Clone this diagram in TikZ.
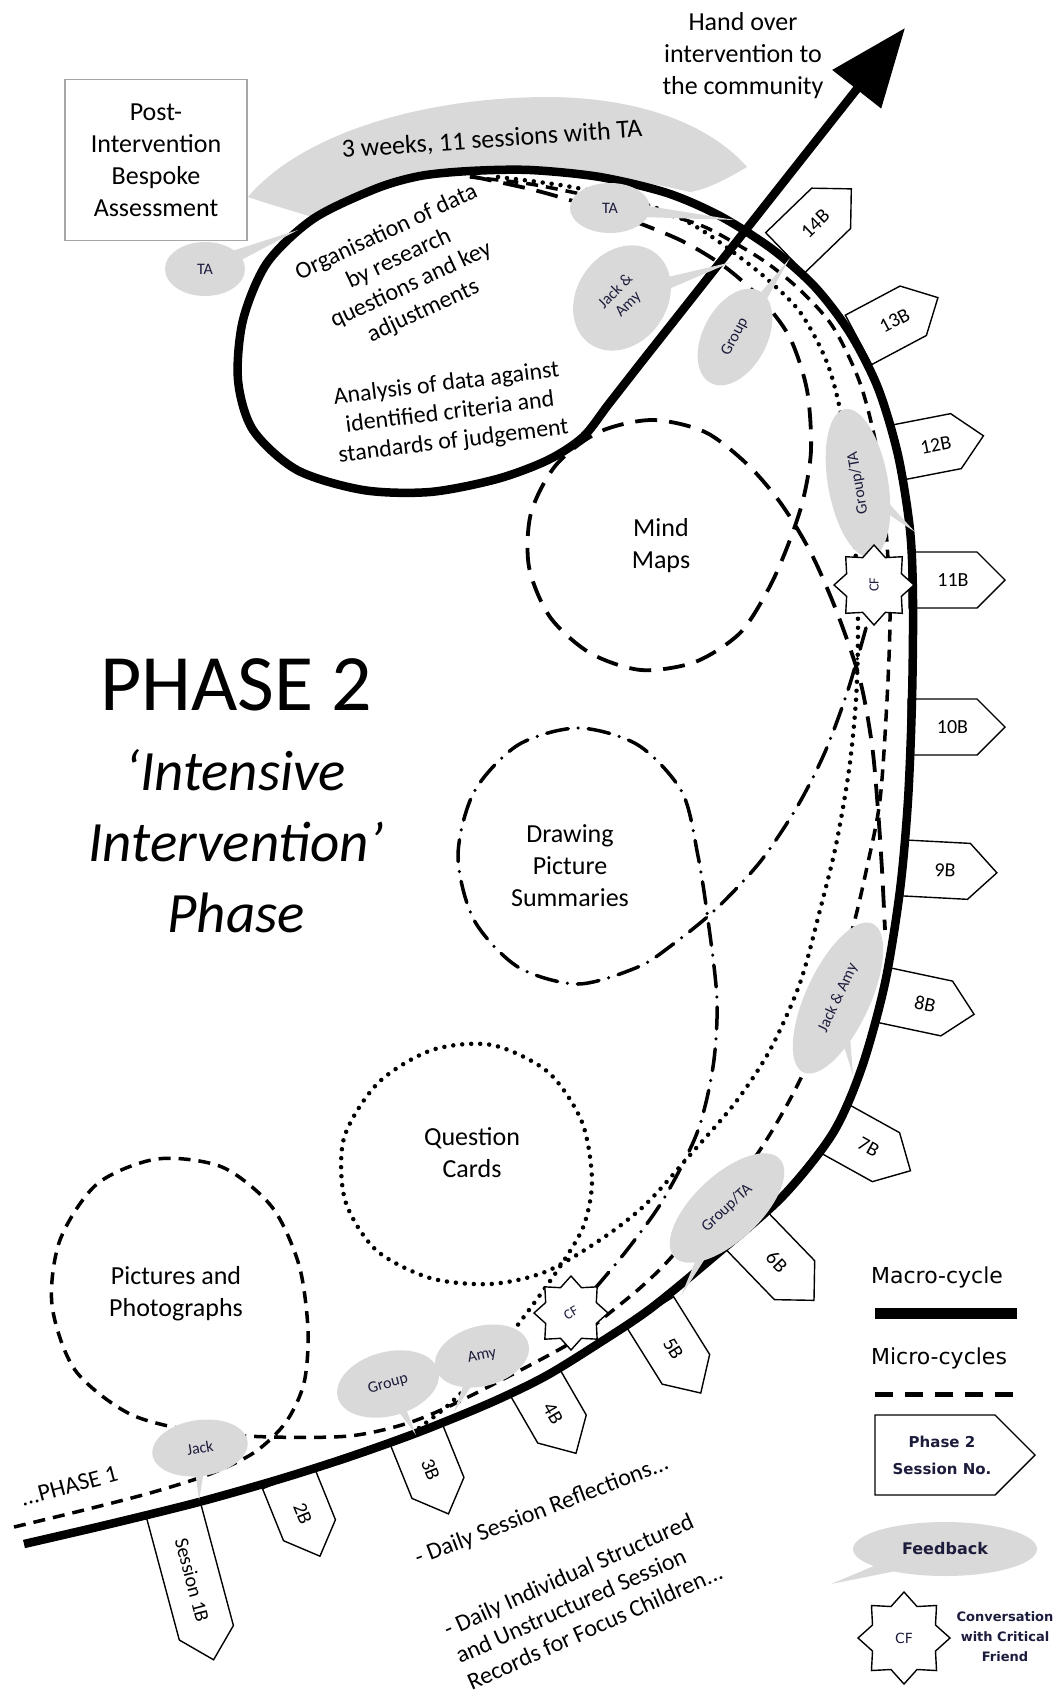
\documentclass[tikz,border=0pt]{standalone}
\usepackage{fontspec}
\setmainfont{Carlito}
\newfontfamily\keyfont{DejaVu Sans}
\usetikzlibrary{arrows.meta,calc,shapes.geometric}

\definecolor{bubblegray}{RGB}{217,217,217}
\definecolor{inkblue}{RGB}{28,28,60}

\tikzset{
  macro/.style={line width=8.5pt, line join=round},
  pictdash/.style={line width=3.5pt, dash pattern=on 12pt off 8pt},
  minddash/.style={line width=3.8pt, dash pattern=on 22pt off 12pt},
  carddots/.style={line width=4.5pt, line cap=round, dash pattern=on 0pt off 9pt},
  drawdashdot/.style={line width=3.5pt, line cap=round, dash pattern=on 22pt off 10pt on 0pt off 10pt},
  tagbox/.style={draw, line width=1.4pt, fill=white, line join=miter},
  tagtext/.style={font=\fontsize{20}{20}\selectfont, inner sep=0pt},
  lbl/.style={font=\fontsize{26}{32}\selectfont, align=center, inner sep=0pt},
  smalllbl/.style={font=\fontsize{24}{29}\selectfont, align=center, inner sep=0pt},
  fbtext/.style={font=\fontsize{16}{18}\selectfont, text=inkblue, align=center, inner sep=0pt},
  cfstar/.style={star, star points=8, star point ratio=1.35, draw, line width=1.4pt, fill=white, inner sep=0pt, font=\fontsize{14}{14}\selectfont, text=inkblue},
  keytext/.style={font=\keyfont\fontsize{22}{22}\selectfont, inner sep=0pt},
}

\newcommand{\feedback}[9]{%
  \fill[bubblegray] ($#2!#7!90:#6$) -- #6 -- ($#2!#7!-90:#6$) -- cycle;
  \fill[bubblegray, rotate around={#5:#2}] #2 ellipse ({#3} and {#4});
  \node[fbtext, rotate=#8] (#1) at #2 {#9};
}

\begin{document}
\begin{tikzpicture}[x=1pt, y=-1pt]
\useasboundingbox (0,0) rectangle (1055,1697);

\fill[bubblegray] (248,197) .. controls (300,135) and (420,97) .. (550,97)
  .. controls (650,98) and (715,130) .. (747,167)
  .. controls (725,180) and (705,190) .. (690,192)
  .. controls (640,180) and (560,168) .. (480,168)
  .. controls (400,170) and (340,195) .. (312,217)
  .. controls (290,210) and (265,203) .. (248,197) -- cycle;

\draw[pictdash] plot[smooth] coordinates {(14,1527) (80,1511) (150,1493) (210,1474) (255,1452) (286,1422) (304,1383) (308,1330) (299,1265) (272,1207) (222,1167) (157,1159) (97,1184) (60,1240) (52,1305) (75,1370) (130,1414) (200,1432) (272,1437) (349,1436) (405,1424) (454,1404) (536,1362) (575,1340) (607,1315) (640,1288) (667,1262) (715,1207) (760,1150) (800,1080) (830,1005) (853,927) (867,867) (880,800) (887,700) (890,613) (886,530) (877,450) (860,383) (833,327) (800,290) (767,263) (733,242) (700,225) (650,210) (590,196) (530,184) (470,177)};

\draw[minddash] plot[smooth] coordinates {(470,176) (530,189) (573,201) (620,216) (680,240) (725,267) (762,300) (790,338) (807,390) (811,450) (803,500) (788,545) (769,588) (740,633) (695,662) (641,670) (590,653) (550,617) (529,567) (531,513) (556,465) (599,432) (652,420) (705,432) (748,465) (782,505) (812,555) (838,615) (860,680) (872,745) (878,810) (882,870) (885,930)};

\draw[carddots] plot[smooth] coordinates {(419,1428) (445,1408) (470,1384) (495,1355) (517,1326) (540,1295) (563,1262) (584,1225) (592,1180) (582,1122) (548,1072) (492,1045) (432,1050) (378,1083) (344,1138) (345,1200) (376,1250) (430,1278) (490,1284) (545,1272) (600,1240) (645,1205) (690,1155) (735,1103) (770,1050) (800,983) (820,910) (836,845) (849,770) (856,700) (858,630) (856,560) (849,480) (840,410) (826,360) (800,312) (767,279) (733,252) (700,229) (667,212) (620,197) (560,185) (490,176)};

\draw[drawdashdot] plot[smooth] coordinates {(866,628) (848,690) (825,752) (797,807) (760,862) (715,910) (672,945) (638,967) (578,984) (518,967) (474,920) (458,856) (474,792) (518,745) (578,728) (638,745) (682,792) (698,856) (708,920) (717,1000) (713,1067) (697,1133) (663,1200) (627,1250) (592,1292)};

\foreach \n/\bx/\by/\ang/\len/\lab in {
  1/174/1512/-75/153/Session 1B,
  2/290/1482/-68/80/2B,
  3/417/1436/-68/84/3B,
  4/536/1384/-60/80/4B,
  5/652/1315/-58/92/5B,
  6/748/1232/-46/95/6B,
  7/837/1130/-29/84/7B,
  8/888/996/-12/88/8B,
  9/905/868/-3/92/9B,
  10/912/727/0/93/10B,
  11/913/580/0/92/11B,
  12/900/452/11/85/12B,
  13/862/338/28/86/13B,
  14/788/250/44/88/14B}{
  \begin{scope}[shift={(\bx,\by)}, rotate=\ang]
    \draw[tagbox] (-4,-28) -- ({\len-28},-28) -- (\len,0) -- ({\len-28},28) -- (-4,28) -- cycle;
    \node[tagtext, rotate=\ang] (tag\n) at ({(\len-28)/2+8},0) {\lab};
  \end{scope}
}

\draw[macro, -{Triangle[length=78pt,width=60pt]}] plot[smooth] coordinates {(24,1544) (110,1524) (199,1502) (280,1479) (349,1457) (419,1432) (490,1403) (544,1377) (593,1347) (650,1309) (717,1254) (783,1196) (833,1133) (862,1067) (885,983) (900,890) (908,800) (912,700) (913,600) (910,530) (898,455) (878,388) (850,333) (815,287) (772,249) (720,216) (667,193) (600,177) (530,170) (470,171) (420,176) (375,189) (313,219) (267,263) (243,320) (238,380) (253,430) (297,470) (363,490) (430,492) (497,479) (548,460) (583,437) (608,405) (640,364)} -- (905,28);

\feedback{taleft}{(205,269)}{40}{27}{0}{(298,230)}{9pt}{0}{TA}
\feedback{tatop}{(610,208)}{40}{25}{0}{(735,220)}{8pt}{0}{TA}
\feedback{jackamytop}{(622,298)}{56}{45}{55}{(732,262)}{10pt}{45}{Jack \&\\Amy}
\feedback{grouptop}{(735,337)}{52}{32}{62}{(790,258)}{9pt}{62}{Group}
\feedback{grouptaright}{(858,483)}{75}{30}{100}{(915,532)}{9pt}{100}{Group/TA}
\feedback{jackamyright}{(838,998)}{82}{32}{65}{(853,1075)}{9pt}{65}{Jack \& Amy}
\feedback{grouptabottom}{(727,1208)}{72}{33}{43}{(681,1296)}{9pt}{43}{Group/TA}
\feedback{groupbottom}{(388,1384)}{52}{32}{15}{(416,1435)}{8pt}{15}{Group}
\feedback{amy}{(482,1356)}{48}{30}{15}{(454,1412)}{8pt}{12}{Amy}
\feedback{jack}{(200,1448)}{48}{28}{8}{(199,1500)}{8pt}{10}{Jack}

\node[cfstar, minimum size=80pt] (cfupper) at (874,585) {\rotatebox{90}{CF}};
\node[cfstar, minimum size=74pt] (cflower) at (571,1313) {\rotatebox{30}{CF}};

\node[lbl, draw=gray!70, line width=1.5pt, fill=white, minimum width=182pt, minimum height=161pt] (post) at (156,160) {Post-\\Intervention\\Bespoke\\Assessment};
\node[lbl] (handover) at (743,56) {Hand over\\intervention to\\the community};
\node[lbl, rotate=4] (weeks) at (492,140) {3 weeks, 11 sessions with TA};
\node[smalllbl, rotate=25] (organise) at (405,272) {Organisation of data\\by research\\questions and key\\adjustments};
\node[smalllbl, rotate=7] (analysis) at (450,413) {Analysis of data against\\identified criteria and\\standards of judgement};
\node[lbl] (mindmaps) at (661,546) {Mind\\Maps};
\node[lbl] (drawing) at (570,866) {Drawing\\Picture\\Summaries};
\node[lbl] (cards) at (472,1153) {Question\\Cards};
\node[lbl] (pictures) at (176,1294) {Pictures and\\Photographs};
\node[inner sep=0pt, font=\fontsize{80}{80}\selectfont] (phasetwo) at (236,685) {PHASE 2};
\node[inner sep=0pt, align=center, font=\fontsize{57}{71}\selectfont\itshape] (intensive) at (236,841) {‘Intensive\\Intervention’\\Phase};
\node[smalllbl, rotate=15] (phaseone) at (69,1486) {...PHASE 1};
\node[smalllbl, rotate=21] (reflect) at (542,1511) {- Daily Session Reflections...};
\node[smalllbl, align=left, rotate=24] (records) at (583,1600) {- Daily Individual Structured\\and Unstructured Session\\Records for Focus Children...};

\node[keytext] (macrokey) at (937,1277) {Macro-cycle};
\coordinate (macroa) at (875,1313);
\coordinate (macrob) at (1017,1313);
\draw[line width=11pt] (macroa) -- (macrob);
\node[keytext] (microkey) at (939,1358) {Micro-cycles};
\coordinate (microa) at (875,1394);
\coordinate (microb) at (1017,1394);
\draw[line width=5pt, dash pattern=on 18pt off 12pt] (microa) -- (microb);
\draw[tagbox] (875,1415) -- (995,1415) -- (1035,1455) -- (995,1495) -- (875,1495) -- cycle;
\node[inner sep=0pt, align=center, text=inkblue, font=\keyfont\bfseries\fontsize{15}{27}\selectfont] (tagkey) at (942,1455) {Phase 2\\Session No.};
\feedback{fbkey}{(945,1549)}{92}{27}{0}{(831,1584)}{12pt}{0}{\keyfont\bfseries Feedback}
\node[cfstar, minimum size=92pt, font=\keyfont\fontsize{14}{14}\selectfont] (cfkey) at (904,1638) {CF};
\node[inner sep=0pt, align=center, text=inkblue, font=\keyfont\bfseries\fontsize{13}{20}\selectfont] (cfnote) at (1005,1637) {Conversation\\with Critical\\Friend};
\end{tikzpicture}
\end{document}
